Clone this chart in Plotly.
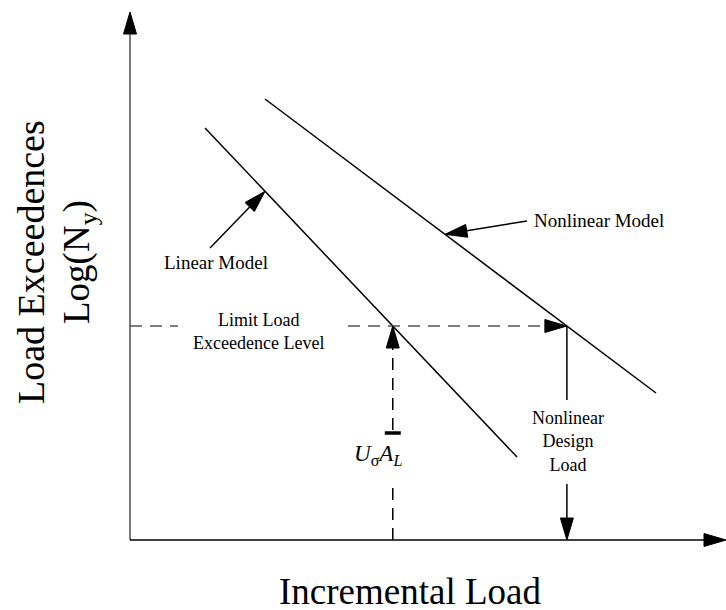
import plotly.graph_objects as go
import math

# ---- data (conceptual units: load on x, log exceedences on y) ----
linear_x = [1.5, 7.74]
linear_y = [8.24, 1.66]
nonlinear_x = [2.7, 10.52]
nonlinear_y = [8.82, 2.94]
limit_level = [4.28]
axis_max = [11.92, 10.56]   # x-axis end, y-axis end

labels = {
    "linear": "Linear Model",
    "nonlinear": "Nonlinear Model",
    "limit": "Limit Load<br>Exceedence Level",
    "design": "Nonlinear<br>Design<br>Load",
    "ua": "<i>U</i><sub>σ</sub><i>A</i><sub><i>L</i></sub>",
    "xtitle": "Incremental Load",
    "ytitle1": "Load Exceedences",
    "ytitle2": "Log(N<sub>y</sub>)",
}

FONT = "Liberation Serif, Times New Roman, serif"
SCALE = 50.0  # px per unit (same on both axes)


def x_on(xs, ys, y):
    t = (y - ys[0]) / (ys[1] - ys[0])
    return xs[0] + t * (xs[1] - xs[0])


def y_on(xs, ys, x):
    t = (x - xs[0]) / (xs[1] - xs[0])
    return ys[0] + t * (ys[1] - ys[0])


def head(tip, frm, length_px=22, half_px=6.5, color="black"):
    dx, dy = tip[0] - frm[0], tip[1] - frm[1]
    d = math.hypot(dx, dy)
    ux, uy = dx / d, dy / d
    L, H = length_px / SCALE, half_px / SCALE
    bx, by = tip[0] - ux * L, tip[1] - uy * L
    px, py = -uy * H, ux * H
    path = (f"M{tip[0]},{tip[1]} L{bx + px},{by + py} L{bx - px},{by - py} Z")
    return dict(type="path", path=path, xref="x", yref="y",
                fillcolor=color, line=dict(color=color, width=1))


def base_of(tip, frm, length_px=22):
    dx, dy = tip[0] - frm[0], tip[1] - frm[1]
    d = math.hypot(dx, dy)
    L = length_px / SCALE
    return (tip[0] - dx / d * L, tip[1] - dy / d * L)


fig = go.Figure()
shapes = []

def seg(x0, y0, x1, y1, color="black", width=1.6, dash=None):
    fig.add_trace(go.Scatter(x=[x0, x1], y=[y0, y1], mode="lines",
                             line=dict(color=color, width=width, dash=dash),
                             hoverinfo="skip", showlegend=False))

# axes
shapes.append(head((0, axis_max[1]), (0, 0), color="black"))
ytop = base_of((0, axis_max[1]), (0, 0))
seg(0, 0, 0, ytop[1], color="#7a7a7a", width=2)
shapes.append(head((axis_max[0], 0), (0, 0)))
xend = base_of((axis_max[0], 0), (0, 0))
seg(0, 0, xend[0], 0, color="black", width=1.6)

# model lines
seg(linear_x[0], linear_y[0], linear_x[1], linear_y[1], width=1.5)
seg(nonlinear_x[0], nonlinear_y[0], nonlinear_x[1], nonlinear_y[1], width=1.5)

lvl = limit_level[0]
xl = x_on(linear_x, linear_y, lvl)
xn = x_on(nonlinear_x, nonlinear_y, lvl)
DASH = "12px,8px"

# horizontal dashed limit level
seg(0, lvl, 0.96, lvl, color="#555", width=1.5, dash=DASH)
hb = base_of((xn, lvl), (0, lvl))
seg(4.36, lvl, hb[0], lvl, color="#555", width=1.5, dash=DASH)
shapes.append(head((xn, lvl), (0, lvl)))

# vertical dashed at linear intersection
vb = base_of((xl, lvl), (xl, 0))
seg(xl, 0, xl, 1.2, color="black", width=1.5, dash=DASH)
seg(xl, 2.2, xl, vb[1], color="black", width=1.5, dash=DASH)
shapes.append(head((xl, lvl), (xl, 0)))
seg(xl - 0.16, 2.14, xl + 0.16, 2.14, color="black", width=3.5)

# nonlinear design load vertical
seg(xn, lvl, xn, 2.8, width=1.5)
db = base_of((xn, 0), (xn, lvl))
seg(xn, 1.12, xn, db[1], width=1.5)
shapes.append(head((xn, 0), (xn, lvl)))

# pointer arrows to model lines
tipL = (2.7, y_on(linear_x, linear_y, 2.7))
tailL = (1.6, 5.84)
bL = base_of(tipL, tailL)
seg(tailL[0], tailL[1], bL[0], bL[1], width=1.5)
shapes.append(head(tipL, tailL))

tipN = (6.3, y_on(nonlinear_x, nonlinear_y, 6.3))
tailN = (7.94, 6.38)
bN = base_of(tipN, tailN)
seg(tailN[0], tailN[1], bN[0], bN[1], width=1.5)
shapes.append(head(tipN, tailN))

def txt(x, y, text, size, angle=0):
    fig.add_annotation(x=x, y=y, xref="x", yref="y", text=text, showarrow=False,
                       textangle=angle, font=dict(family=FONT, size=size, color="black"),
                       xanchor="center", yanchor="middle", borderpad=0)

txt(1.71, 5.56, labels["linear"], 19)
txt(9.38, 6.4, labels["nonlinear"], 19)
txt(2.56, 4.18, labels["limit"], 18)
txt(xn + 0.02, 1.98, labels["design"], 18)
txt(4.96, 1.7, labels["ua"], 23)
txt(5.6, -1.03, labels["xtitle"], 37)
txt(-1.98, 5.56, labels["ytitle1"], 38, angle=-90)
txt(-1.02, 5.56, labels["ytitle2"], 37, angle=-90)

fig.update_layout(
    width=726, height=610,
    margin=dict(l=0, r=0, t=0, b=0),
    paper_bgcolor="white", plot_bgcolor="white",
    xaxis=dict(range=[-2.6, 11.92], visible=False, fixedrange=True),
    yaxis=dict(range=[-1.4, 10.8], visible=False, fixedrange=True),
    shapes=shapes,
    showlegend=False,
)

fig.write_html("out.html", config={"displayModeBar": False},
               post_script="document.body.style.margin='0';")
